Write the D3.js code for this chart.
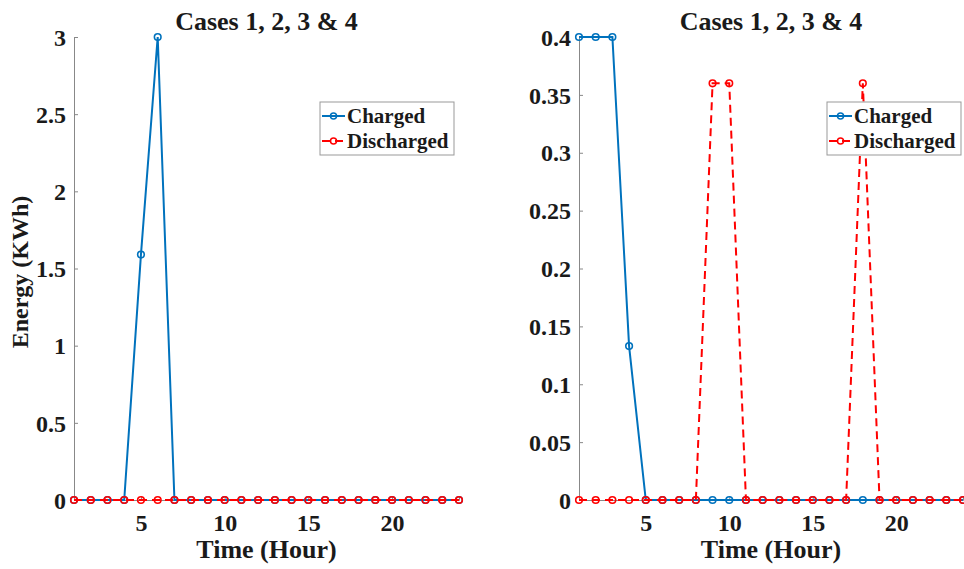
<!DOCTYPE html>
<html>
<head>
<meta charset="utf-8">
<script src="https://cdn.jsdelivr.net/npm/d3@7"></script>
<style>
  body { margin: 0; background: #fff; }
  text { font-family: "Liberation Serif", "Times New Roman", serif; font-weight: bold; fill: #1a1a1a; }
</style>
</head>
<body>
<svg id="chart" width="964" height="569"></svg>
<script>
// hours 1..24
var hours = d3.range(1, 25);

// left panel
var leftCharged    = [0, 0, 0, 0, 1.59, 3, 0, 0, 0, 0, 0, 0, 0, 0, 0, 0, 0, 0, 0, 0, 0, 0, 0, 0];
var leftDischarged = [0, 0, 0, 0, 0, 0, 0, 0, 0, 0, 0, 0, 0, 0, 0, 0, 0, 0, 0, 0, 0, 0, 0, 0];
var leftTicks = [0, 0.5, 1, 1.5, 2, 2.5, 3];

// right panel
var rightCharged    = [0.4, 0.4, 0.4, 0.133, 0, 0, 0, 0, 0, 0, 0, 0, 0, 0, 0, 0, 0, 0, 0, 0, 0, 0, 0, 0];
var rightDischarged = [0, 0, 0, 0, 0, 0, 0, 0, 0.36, 0.36, 0, 0, 0, 0, 0, 0, 0, 0.36, 0, 0, 0, 0, 0, 0];
var rightTicks = [0, 0.05, 0.1, 0.15, 0.2, 0.25, 0.3, 0.35, 0.4];

var xTicks = [5, 10, 15, 20];
var seriesNames = ["Charged", "Discharged"];
var colors = ["#0072BD", "#FF0000"];

var svg = d3.select("#chart");

function panel(opts) {
  var x = d3.scaleLinear().domain([1, 24]).range([opts.left, opts.right]);
  var y = d3.scaleLinear().domain([0, opts.ymax]).range([500, 37]);
  var g = svg.append("g");

  // y axis
  var yAx = g.append("g")
    .attr("transform", "translate(" + opts.left + ",0)")
    .call(d3.axisRight(y).tickValues(opts.yticks).tickSize(4).tickFormat(d3.format("")));
  yAx.select(".domain").attr("stroke", "#888").attr("stroke-width", 1);
  yAx.selectAll(".tick line").attr("stroke", "#888");
  yAx.selectAll(".tick text")
    .attr("x", -8).attr("text-anchor", "end")
    .style("font-size", "24px").attr("dy", "0.34em");

  // x axis
  var xAx = g.append("g")
    .attr("transform", "translate(0,500)")
    .call(d3.axisTop(x).tickValues(xTicks).tickSize(4));
  xAx.select(".domain").attr("stroke", "#888");
  xAx.selectAll(".tick line").attr("stroke", "#888");
  xAx.selectAll(".tick text")
    .attr("y", 31).attr("dy", 0)
    .style("font-size", "24px");

  // title and x label
  g.append("text")
    .attr("x", (opts.left + opts.right) / 2).attr("y", 30)
    .attr("text-anchor", "middle").style("font-size", "26px")
    .text("Cases 1, 2, 3 & 4");
  g.append("text")
    .attr("x", (opts.left + opts.right) / 2).attr("y", 558)
    .attr("text-anchor", "middle").style("font-size", "26px")
    .text("Time (Hour)");

  var line = d3.line()
    .x(function(d, i) { return x(hours[i]); })
    .y(function(d) { return y(d); });

  [opts.charged, opts.discharged].forEach(function(vals, k) {
    g.append("path")
      .datum(vals)
      .attr("d", line)
      .attr("fill", "none")
      .attr("stroke", colors[k])
      .attr("stroke-width", 2)
      .attr("stroke-dasharray", k == 1 ? "8,5" : null);
    g.selectAll(null)
      .data(vals)
      .enter().append("circle")
      .attr("cx", function(d, i) { return x(hours[i]); })
      .attr("cy", function(d) { return y(d); })
      .attr("r", 3.3)
      .attr("fill", "none")
      .attr("stroke", colors[k])
      .attr("stroke-width", 1.6);
  });

  // legend
  var lg = g.append("g").attr("transform", "translate(" + opts.legX + ",102)");
  lg.append("rect")
    .attr("width", 134).attr("height", 53)
    .attr("fill", "#fff").attr("stroke", "#999").attr("stroke-width", 1);
  seriesNames.forEach(function(name, k) {
    var yy = 14 + k * 25;
    lg.append("line")
      .attr("x1", 2).attr("x2", 25).attr("y1", yy).attr("y2", yy)
      .attr("stroke", colors[k]).attr("stroke-width", 2)
      .attr("stroke-dasharray", k == 1 ? "8,5" : null);
    lg.append("circle")
      .attr("cx", 13.5).attr("cy", yy).attr("r", 3)
      .attr("fill", "none").attr("stroke", colors[k]).attr("stroke-width", 1.5);
    lg.append("text")
      .attr("x", 27).attr("y", yy).attr("dy", "0.35em")
      .style("font-size", "21px")
      .text(name);
  });
}

panel({ left: 74, right: 459, ymax: 3, yticks: leftTicks,
        charged: leftCharged, discharged: leftDischarged, legX: 320 });
panel({ left: 579, right: 963, ymax: 0.4, yticks: rightTicks,
        charged: rightCharged, discharged: rightDischarged, legX: 827 });

// y label
svg.append("text")
  .attr("transform", "translate(28,272) rotate(-90)")
  .attr("text-anchor", "middle").style("font-size", "24px")
  .text("Energy (KWh)");
</script>
</body>
</html>
